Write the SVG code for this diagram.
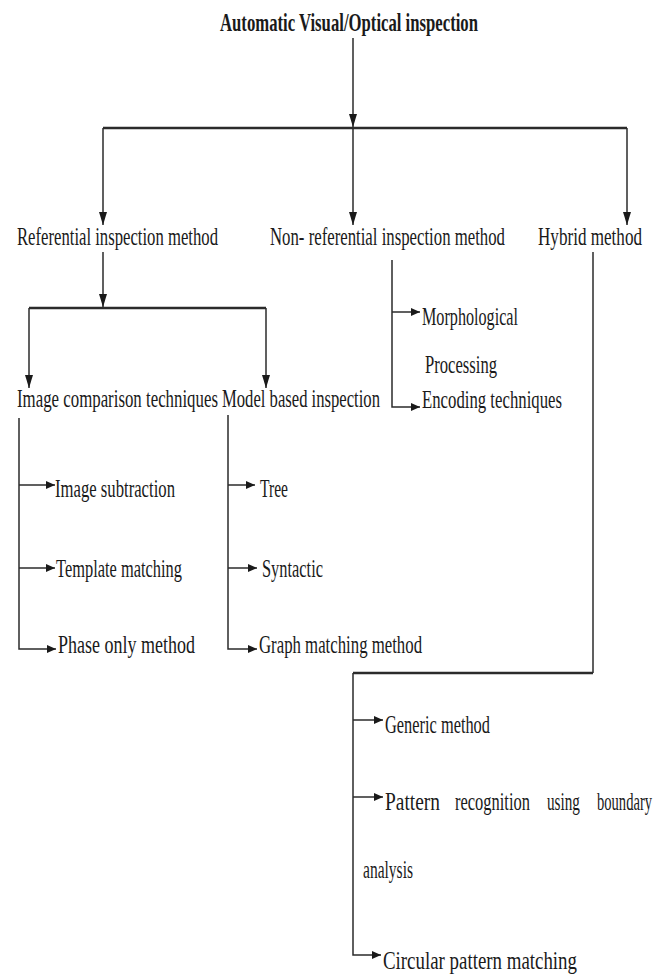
<svg xmlns="http://www.w3.org/2000/svg" width="665" height="976" viewBox="0 0 665 976">
<defs>
<style>
text{font-family:"Liberation Serif","Times New Roman",serif;font-size:25px;fill:#1a1a1a}
.t{font-weight:bold}
.c{fill:none;stroke:#2b2b2b;stroke-width:1.5}
.m{fill:none;stroke:#2b2b2b;stroke-width:2.5}
</style>
<marker id="av" markerUnits="userSpaceOnUse" markerWidth="13" markerHeight="8" refX="13" refY="4" orient="auto"><path d="M0,0 L13,4 L0,8 z" fill="#1a1a1a"/></marker>
<marker id="ah" markerUnits="userSpaceOnUse" markerWidth="9" markerHeight="8" refX="9" refY="4" orient="auto"><path d="M0,0 L9,4 L0,8 z" fill="#1a1a1a"/></marker>
</defs>
<rect width="665" height="976" fill="#ffffff"/>
<g id="connectors">
<path class="c" d="M353,38 V127" marker-end="url(#av)"/>
<path class="m" d="M103,128 H627"/>
<path class="c" d="M103,128 V225" marker-end="url(#av)"/>
<path class="c" d="M353,128 V225" marker-end="url(#av)"/>
<path class="c" d="M627,128 V225" marker-end="url(#av)"/>
<path class="c" d="M103,252 V307" marker-end="url(#av)"/>
<path class="m" d="M29,308 H266"/>
<path class="c" d="M29,308 V388" marker-end="url(#av)"/>
<path class="c" d="M266,308 V388" marker-end="url(#av)"/>
<path class="c" d="M392,260 V407 H420" marker-end="url(#ah)"/>
<path class="c" d="M392,312 H420" marker-end="url(#ah)"/>
<path class="c" d="M19,418 V649 H56" marker-end="url(#ah)"/>
<path class="c" d="M19,485 H55" marker-end="url(#ah)"/>
<path class="c" d="M19,568 H55" marker-end="url(#ah)"/>
<path class="c" d="M228,415 V649 H257" marker-end="url(#ah)"/>
<path class="c" d="M228,485 H255" marker-end="url(#ah)"/>
<path class="c" d="M228,568 H257" marker-end="url(#ah)"/>
<path class="c" d="M593,252 V673"/>
<path class="m" d="M593,673 H353"/>
<path class="c" d="M353,673 V955 H381" marker-end="url(#ah)"/>
<path class="c" d="M353,720 H383" marker-end="url(#ah)"/>
<path class="c" d="M353,797 H383" marker-end="url(#ah)"/>
</g>
<g id="root"><text class="t" transform="translate(220,31) scale(0.7,1)" textLength="368.6" lengthAdjust="spacingAndGlyphs">Automatic Visual/Optical inspection</text></g>
<g id="referential"><text transform="translate(17,245) scale(0.7,1)" textLength="287.1" lengthAdjust="spacingAndGlyphs">Referential inspection method</text></g>
<g id="nonreferential"><text transform="translate(270,245) scale(0.7,1)" textLength="335.7" lengthAdjust="spacingAndGlyphs">Non- referential inspection method</text></g>
<g id="hybrid"><text transform="translate(538,245) scale(0.7,1)" textLength="148.6" lengthAdjust="spacingAndGlyphs">Hybrid method</text></g>
<g id="morphological"><text transform="translate(422,325) scale(0.7,1)" textLength="137.1" lengthAdjust="spacingAndGlyphs">Morphological</text><text transform="translate(425,373) scale(0.7,1)" textLength="102.9" lengthAdjust="spacingAndGlyphs">Processing</text></g>
<g id="encoding"><text transform="translate(422,408) scale(0.7,1)" textLength="200" lengthAdjust="spacingAndGlyphs">Encoding techniques</text></g>
<g id="imagecomparison"><text transform="translate(17,407) scale(0.7,1)" textLength="287.1" lengthAdjust="spacingAndGlyphs">Image comparison techniques</text></g>
<g id="modelbased"><text transform="translate(222,407) scale(0.7,1)" textLength="225.7" lengthAdjust="spacingAndGlyphs">Model based inspection</text></g>
<g id="imagesubtraction"><text transform="translate(55,497) scale(0.7,1)" textLength="171.4" lengthAdjust="spacingAndGlyphs">Image subtraction</text></g>
<g id="templatematching"><text transform="translate(56,577) scale(0.7,1)" textLength="180" lengthAdjust="spacingAndGlyphs">Template matching</text></g>
<g id="phaseonly"><text transform="translate(58,653) scale(0.7,1)" textLength="195.7" lengthAdjust="spacingAndGlyphs">Phase only method</text></g>
<g id="tree"><text transform="translate(260,497) scale(0.7,1)" textLength="40" lengthAdjust="spacingAndGlyphs">Tree</text></g>
<g id="syntactic"><text transform="translate(262,577) scale(0.7,1)" textLength="87.1" lengthAdjust="spacingAndGlyphs">Syntactic</text></g>
<g id="graphmatching"><text transform="translate(259,653) scale(0.7,1)" textLength="232.9" lengthAdjust="spacingAndGlyphs">Graph matching method</text></g>
<g id="generic"><text transform="translate(385,733) scale(0.7,1)" textLength="150" lengthAdjust="spacingAndGlyphs">Generic method</text></g>
<g id="patternrecognition"><text transform="translate(385,810) scale(0.7,1)" textLength="78.6" lengthAdjust="spacingAndGlyphs">Pattern</text><text transform="translate(455,810) scale(0.7,1)" textLength="107.1" lengthAdjust="spacingAndGlyphs">recognition</text><text transform="translate(547,810) scale(0.7,1)" textLength="47.1" lengthAdjust="spacingAndGlyphs">using</text><text transform="translate(597,810) scale(0.7,1)" textLength="78.6" lengthAdjust="spacingAndGlyphs">boundary</text><text transform="translate(363,878) scale(0.7,1)" textLength="71.4" lengthAdjust="spacingAndGlyphs">analysis</text></g>
<g id="circular"><text transform="translate(383,969) scale(0.7,1)" textLength="277.1" lengthAdjust="spacingAndGlyphs">Circular pattern matching</text></g>
</svg>
